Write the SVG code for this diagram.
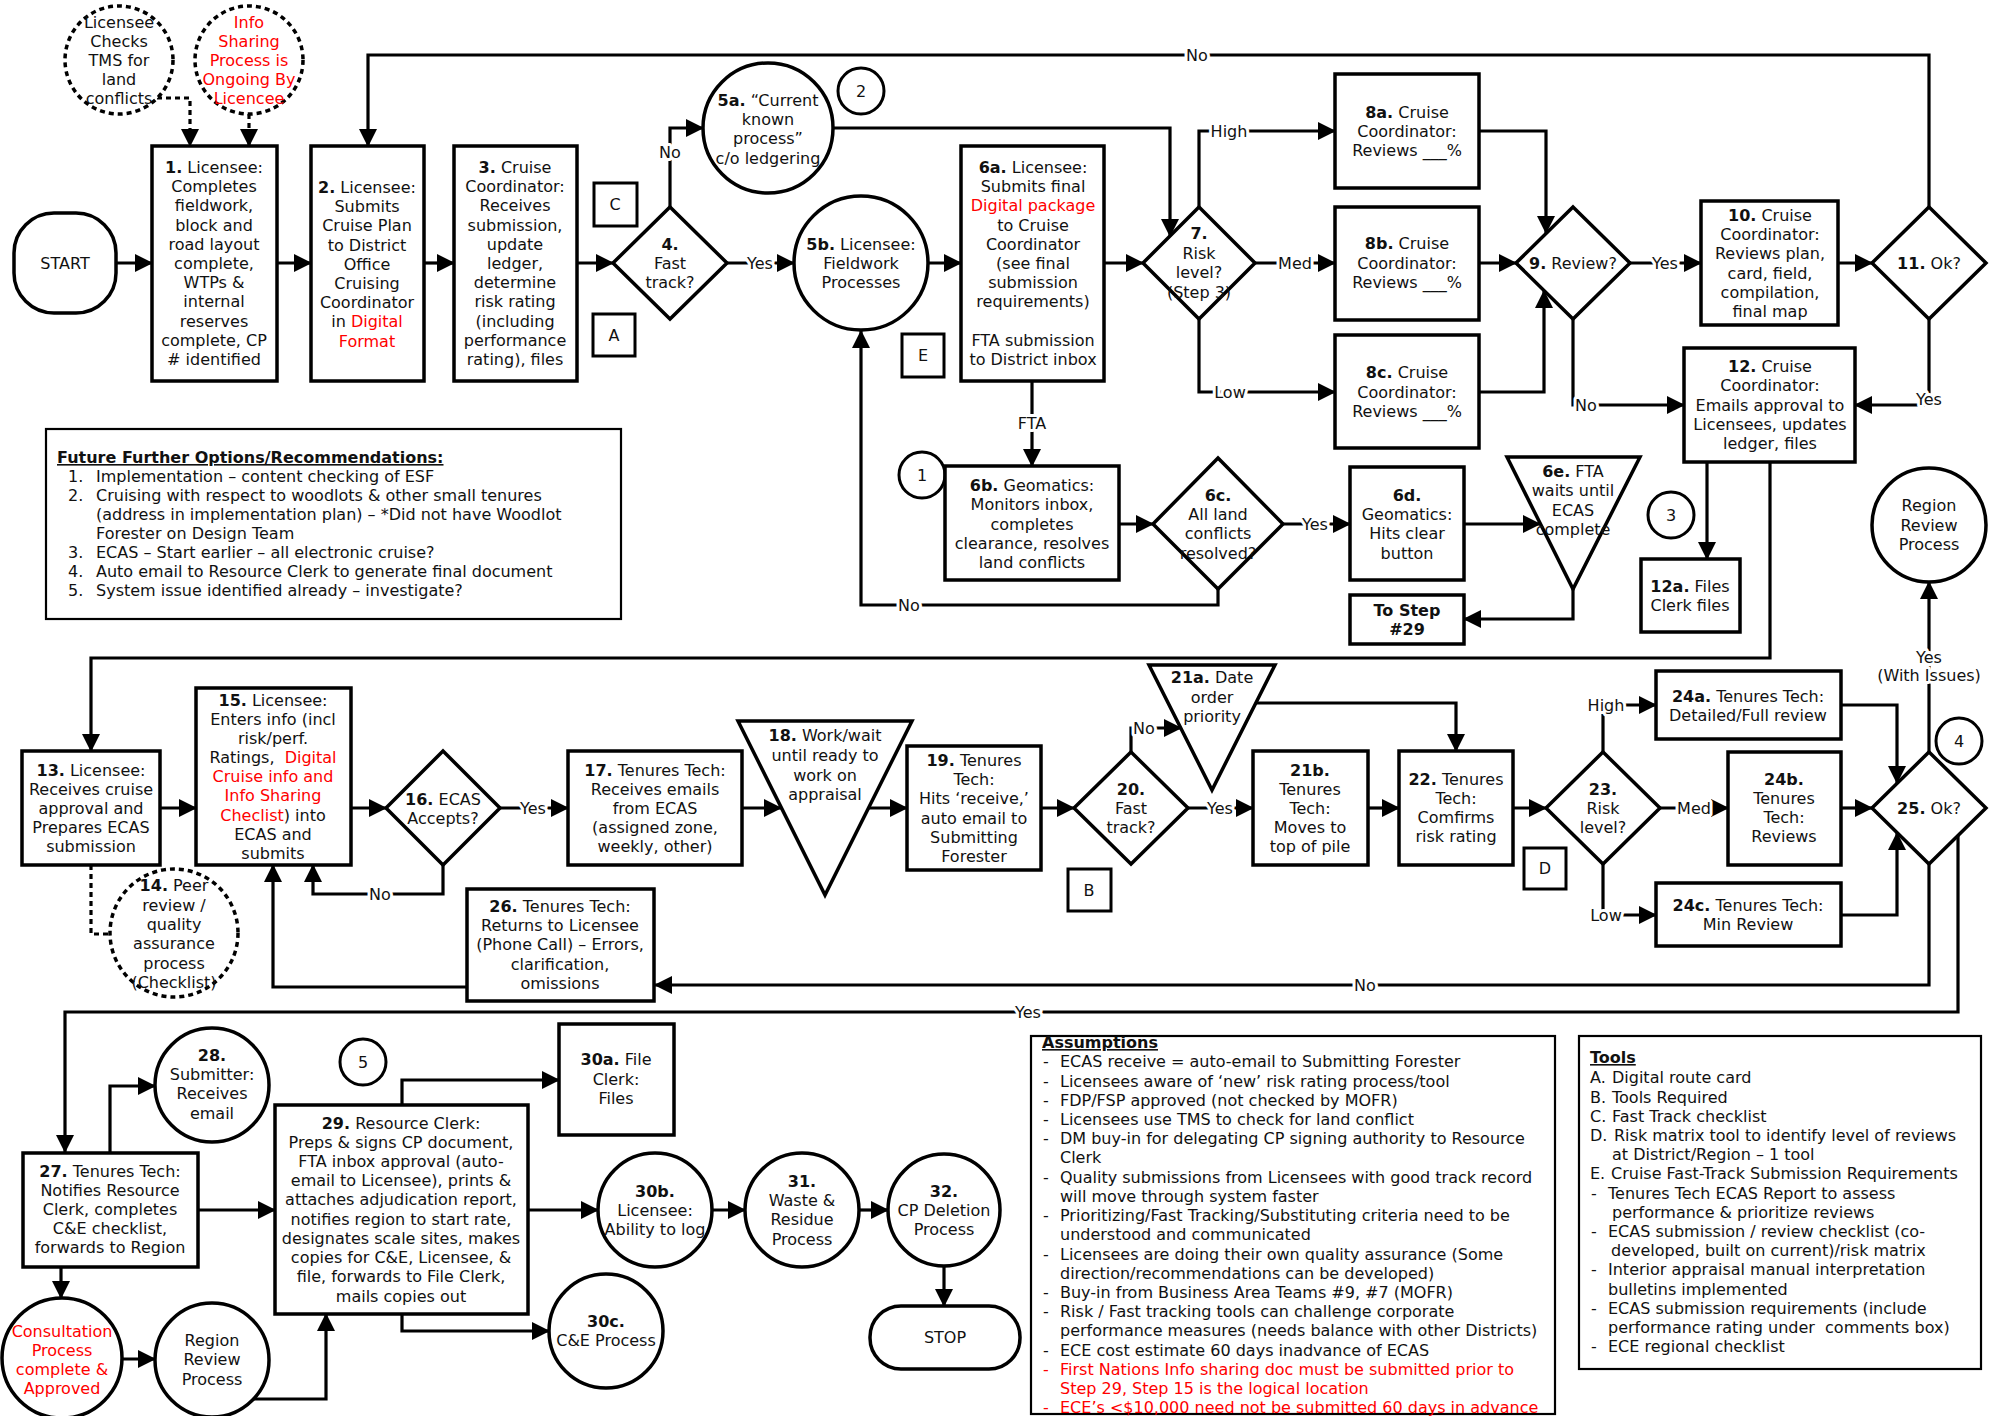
<svg xmlns="http://www.w3.org/2000/svg" width="1997" height="1416" viewBox="0 0 1997 1416">
<style>
text{font-family:"DejaVu Sans",Verdana,sans-serif;font-size:16px;fill:#111}
.t{text-anchor:middle}
.b{font-weight:bold}
.r{fill:#f00}
.u{text-decoration:underline;font-weight:bold}
.box{fill:#fff;stroke:#000;stroke-width:3.5}
.thin{fill:#fff;stroke:#000;stroke-width:2.2}
.dsh{fill:#fff;stroke:#000;stroke-width:3.5;stroke-dasharray:5 4}
.con{fill:none;stroke:#000;stroke-width:3.2}
.cd{fill:none;stroke:#000;stroke-width:3.2;stroke-dasharray:5 4}
.lbl{text-anchor:middle;paint-order:stroke;stroke:#fff;stroke-width:6px;stroke-linejoin:round}
</style>
<defs>
<marker id="a" markerUnits="userSpaceOnUse" markerWidth="18" markerHeight="18" refX="17" refY="9" orient="auto"><path d="M0,0 L18,9 L0,18 z" fill="#000"/></marker>
</defs>
<rect width="1997" height="1416" fill="#fff"/>

<g id="connectors">
<path class="con" marker-end="url(#a)" d="M116,263 H152"/>
<path class="con" marker-end="url(#a)" d="M277,263 H311"/>
<path class="con" marker-end="url(#a)" d="M424,263 H454"/>
<path class="con" marker-end="url(#a)" d="M577,263 H613"/>
<path class="con" marker-end="url(#a)" d="M670,207 V128 H703"/>
<path class="con" marker-end="url(#a)" d="M727,263 H794"/>
<path class="con" marker-end="url(#a)" d="M928,263 H961"/>
<path class="con" marker-end="url(#a)" d="M833,128 H1170 V236"/>
<path class="con" marker-end="url(#a)" d="M1104,263 H1143"/>
<path class="con" marker-end="url(#a)" d="M1199,207 V131 H1335"/>
<path class="con" marker-end="url(#a)" d="M1255,263 H1335"/>
<path class="con" marker-end="url(#a)" d="M1199,319 V392 H1335"/>
<path class="con" marker-end="url(#a)" d="M1479,131 H1546 V233"/>
<path class="con" marker-end="url(#a)" d="M1479,263 H1516"/>
<path class="con" marker-end="url(#a)" d="M1479,392 H1544 V291"/>
<path class="con" marker-end="url(#a)" d="M1630,263 H1701"/>
<path class="con" marker-end="url(#a)" d="M1838,263 H1872"/>
<path class="con" marker-end="url(#a)" d="M1929,207 V55 H368 V146"/>
<path class="con" marker-end="url(#a)" d="M1929,319 V405 H1855"/>
<path class="con" marker-end="url(#a)" d="M1573,319 V405 H1684"/>
<path class="con" marker-end="url(#a)" d="M1032,381 V466"/>
<path class="con" marker-end="url(#a)" d="M1119,524 H1153"/>
<path class="con" marker-end="url(#a)" d="M1283,524 H1350"/>
<path class="con" marker-end="url(#a)" d="M1218,589 V605 H861 V331"/>
<path class="con" marker-end="url(#a)" d="M1464,524 H1540"/>
<path class="con" marker-end="url(#a)" d="M1573,589 V619 H1464"/>
<path class="con" marker-end="url(#a)" d="M1707,462 V559"/>
<path class="con" marker-end="url(#a)" d="M1770,462 V658 H91 V751"/>
<path class="cd" marker-end="url(#a)" d="M157,98 H190 V146"/>
<path class="cd" marker-end="url(#a)" d="M249,114 V146"/>
<path class="con" marker-end="url(#a)" d="M160,808 H196"/>
<path class="con" marker-end="url(#a)" d="M351,808 H386"/>
<path class="con" marker-end="url(#a)" d="M500,808 H568"/>
<path class="con" marker-end="url(#a)" d="M443,865 V894 H313 V865"/>
<path class="con" marker-end="url(#a)" d="M742,808 H781"/>
<path class="con" marker-end="url(#a)" d="M868,808 H907"/>
<path class="con" marker-end="url(#a)" d="M1041,808 H1074"/>
<path class="con" marker-end="url(#a)" d="M1188,808 H1253"/>
<path class="con" marker-end="url(#a)" d="M1131,752 V728 H1181"/>
<path class="con" marker-end="url(#a)" d="M1256,703 H1456 V751"/>
<path class="con" marker-end="url(#a)" d="M1368,808 H1399"/>
<path class="con" marker-end="url(#a)" d="M1513,808 H1546"/>
<path class="con" marker-end="url(#a)" d="M1603,752 V705 H1656"/>
<path class="con" marker-end="url(#a)" d="M1660,808 H1728"/>
<path class="con" marker-end="url(#a)" d="M1603,864 V915 H1656"/>
<path class="con" marker-end="url(#a)" d="M1841,705 H1897 V783"/>
<path class="con" marker-end="url(#a)" d="M1841,808 H1872"/>
<path class="con" marker-end="url(#a)" d="M1841,915 H1897 V833"/>
<path class="con" marker-end="url(#a)" d="M1929,752 V582"/>
<path class="con" marker-end="url(#a)" d="M1929,864 V985 H655"/>
<path class="con" marker-end="url(#a)" d="M467,987 H273 V865"/>
<path class="con" marker-end="url(#a)" d="M1958,836 V1012 H65 V1152"/>
<path class="cd" d="M91,865 V934 H110"/>
<path class="con" marker-end="url(#a)" d="M110,1153 V1086 H155"/>
<path class="con" marker-end="url(#a)" d="M198,1210 H275"/>
<path class="con" marker-end="url(#a)" d="M61,1267 V1298"/>
<path class="con" marker-end="url(#a)" d="M122,1359 H155"/>
<path class="con" marker-end="url(#a)" d="M253,1399 H326 V1314"/>
<path class="con" marker-end="url(#a)" d="M402,1105 V1080 H559"/>
<path class="con" marker-end="url(#a)" d="M528,1210 H598"/>
<path class="con" marker-end="url(#a)" d="M402,1314 V1331 H549"/>
<path class="con" marker-end="url(#a)" d="M712,1210 H745"/>
<path class="con" marker-end="url(#a)" d="M859,1210 H888"/>
<path class="con" marker-end="url(#a)" d="M944,1266 V1306"/>
</g>

<g id="connector-labels">
<text class="lbl" x="670" y="158">No</text>
<text class="lbl" x="760" y="269">Yes</text>
<text class="lbl" x="1197" y="61">No</text>
<text class="lbl" x="1229" y="137">High</text>
<text class="lbl" x="1295" y="269">Med</text>
<text class="lbl" x="1230" y="398">Low</text>
<text class="lbl" x="1665" y="269">Yes</text>
<text class="lbl" x="1929" y="405">Yes</text>
<text class="lbl" x="1586" y="411">No</text>
<text class="lbl" x="1032" y="429">FTA</text>
<text class="lbl" x="1315" y="530">Yes</text>
<text class="lbl" x="909" y="611">No</text>
<text class="lbl" x="380" y="900">No</text>
<text class="lbl" x="533" y="814">Yes</text>
<text class="lbl" x="1144" y="734">No</text>
<text class="lbl" x="1220" y="814">Yes</text>
<text class="lbl" x="1606" y="711">High</text>
<text class="lbl" x="1694" y="814">Med</text>
<text class="lbl" x="1606" y="921">Low</text>
<text class="lbl" x="1929" y="663">Yes</text>
<text class="lbl" x="1929" y="681">(With Issues)</text>
<text class="lbl" x="1365" y="991">No</text>
<text class="lbl" x="1028" y="1018">Yes</text>
</g>

<g id="n-tms">
<circle class="dsh" cx="119" cy="60" r="54"/>
<text class="t" x="119" y="28">Licensee</text>
<text class="t" x="119" y="47">Checks</text>
<text class="t" x="119" y="66">TMS for</text>
<text class="t" x="119" y="85">land</text>
<text class="t" x="119" y="104">conflicts</text>
</g>
<g id="n-info">
<circle class="dsh" cx="249" cy="60" r="54"/>
<text class="t r" x="249" y="28">Info</text>
<text class="t r" x="249" y="47">Sharing</text>
<text class="t r" x="249" y="66">Process is</text>
<text class="t r" x="249" y="85">Ongoing By</text>
<text class="t r" x="249" y="104">Licencee</text>
</g>
<g id="n-start">
<rect class="box" x="14" y="213" width="102" height="100" rx="40"/>
<text class="t" x="65" y="269">START</text>
</g>
<g id="n1">
<rect class="box" x="152" y="146" width="125" height="235"/>
<text class="t" x="214" y="173"><tspan class="b">1.</tspan> Licensee:</text>
<text class="t" x="214" y="192">Completes</text>
<text class="t" x="214" y="211">fieldwork,</text>
<text class="t" x="214" y="231">block and</text>
<text class="t" x="214" y="250">road layout</text>
<text class="t" x="214" y="269">complete,</text>
<text class="t" x="214" y="288">WTPs &amp;</text>
<text class="t" x="214" y="307">internal</text>
<text class="t" x="214" y="327">reserves</text>
<text class="t" x="214" y="346">complete, CP</text>
<text class="t" x="214" y="365"># identified</text>
</g>
<g id="n2">
<rect class="box" x="311" y="146" width="113" height="235"/>
<text class="t" x="367" y="193"><tspan class="b">2.</tspan> Licensee:</text>
<text class="t" x="367" y="212">Submits</text>
<text class="t" x="367" y="231">Cruise Plan</text>
<text class="t" x="367" y="251">to District</text>
<text class="t" x="367" y="270">Office</text>
<text class="t" x="367" y="289">Cruising</text>
<text class="t" x="367" y="308">Coordinator</text>
<text class="t" x="367" y="327">in <tspan class="r">Digital</tspan></text>
<text class="t r" x="367" y="347">Format</text>
</g>
<g id="n3">
<rect class="box" x="454" y="146" width="123" height="235"/>
<text class="t" x="515" y="173"><tspan class="b">3.</tspan> Cruise</text>
<text class="t" x="515" y="192">Coordinator:</text>
<text class="t" x="515" y="211">Receives</text>
<text class="t" x="515" y="231">submission,</text>
<text class="t" x="515" y="250">update</text>
<text class="t" x="515" y="269">ledger,</text>
<text class="t" x="515" y="288">determine</text>
<text class="t" x="515" y="307">risk rating</text>
<text class="t" x="515" y="327">(including</text>
<text class="t" x="515" y="346">performance</text>
<text class="t" x="515" y="365">rating), files</text>
</g>
<g id="tool-c"><rect class="box" x="594" y="183" width="43" height="43" style="stroke-width:3"/><text class="t" x="615" y="210">C</text></g>
<g id="tool-a"><rect class="box" x="593" y="314" width="42" height="42" style="stroke-width:3"/><text class="t" x="614" y="341">A</text></g>
<g id="n4">
<polygon class="box" points="670,207 727,263 670,319 613,263"/>
<text class="t b" x="670" y="250">4.</text>
<text class="t" x="670" y="269">Fast</text>
<text class="t" x="670" y="288">track?</text>
</g>
<g id="n5a">
<circle class="box" cx="768" cy="128" r="65"/>
<text class="t" x="768" y="106"><tspan class="b">5a.</tspan> “Current</text>
<text class="t" x="768" y="125">known</text>
<text class="t" x="768" y="144">process”</text>
<text class="t" x="768" y="164">c/o ledgering</text>
</g>
<g id="mark2"><circle class="box" cx="861" cy="91" r="23" style="stroke-width:3"/><text class="t" x="861" y="97">2</text></g>
<g id="n5b">
<circle class="box" cx="861" cy="263" r="67"/>
<text class="t" x="861" y="250"><tspan class="b">5b.</tspan> Licensee:</text>
<text class="t" x="861" y="269">Fieldwork</text>
<text class="t" x="861" y="288">Processes</text>
</g>
<g id="tool-e"><rect class="box" x="902" y="334" width="42" height="43" style="stroke-width:3"/><text class="t" x="923" y="361">E</text></g>
<g id="n6a">
<rect class="box" x="961" y="146" width="143" height="235"/>
<text class="t" x="1033" y="173"><tspan class="b">6a.</tspan> Licensee:</text>
<text class="t" x="1033" y="192">Submits final</text>
<text class="t r" x="1033" y="211">Digital package</text>
<text class="t" x="1033" y="231">to Cruise</text>
<text class="t" x="1033" y="250">Coordinator</text>
<text class="t" x="1033" y="269">(see final</text>
<text class="t" x="1033" y="288">submission</text>
<text class="t" x="1033" y="307">requirements)</text>
<text class="t" x="1033" y="346">FTA submission</text>
<text class="t" x="1033" y="365">to District inbox</text>
</g>
<g id="n7">
<polygon class="box" points="1199,207 1255,263 1199,319 1143,263"/>
<text class="t b" x="1199" y="239">7.</text>
<text class="t" x="1199" y="259">Risk</text>
<text class="t" x="1199" y="278">level?</text>
<text class="t" x="1199" y="298">(Step 3)</text>
</g>
<g id="n8a">
<rect class="box" x="1335" y="74" width="144" height="114"/>
<text class="t" x="1407" y="118"><tspan class="b">8a.</tspan> Cruise</text>
<text class="t" x="1407" y="137">Coordinator:</text>
<text class="t" x="1407" y="156">Reviews ___%</text>
</g>
<g id="n8b">
<rect class="box" x="1335" y="207" width="144" height="113"/>
<text class="t" x="1407" y="249"><tspan class="b">8b.</tspan> Cruise</text>
<text class="t" x="1407" y="269">Coordinator:</text>
<text class="t" x="1407" y="288">Reviews ___%</text>
</g>
<g id="n8c">
<rect class="box" x="1335" y="335" width="144" height="113"/>
<text class="t" x="1407" y="378"><tspan class="b">8c.</tspan> Cruise</text>
<text class="t" x="1407" y="398">Coordinator:</text>
<text class="t" x="1407" y="417">Reviews ___%</text>
</g>
<g id="n9">
<polygon class="box" points="1573,207 1630,263 1573,319 1516,263"/>
<text class="t" x="1573" y="269"><tspan class="b">9.</tspan> Review?</text>
</g>
<g id="n10">
<rect class="box" x="1701" y="201" width="137" height="124"/>
<text class="t" x="1770" y="221"><tspan class="b">10.</tspan> Cruise</text>
<text class="t" x="1770" y="240">Coordinator:</text>
<text class="t" x="1770" y="259">Reviews plan,</text>
<text class="t" x="1770" y="279">card, field,</text>
<text class="t" x="1770" y="298">compilation,</text>
<text class="t" x="1770" y="317">final map</text>
</g>
<g id="n11">
<polygon class="box" points="1929,207 1986,263 1929,319 1872,263"/>
<text class="t" x="1929" y="269"><tspan class="b">11.</tspan> Ok?</text>
</g>
<g id="n12">
<rect class="box" x="1684" y="348" width="171" height="114"/>
<text class="t" x="1770" y="372"><tspan class="b">12.</tspan> Cruise</text>
<text class="t" x="1770" y="391">Coordinator:</text>
<text class="t" x="1770" y="411">Emails approval to</text>
<text class="t" x="1770" y="430">Licensees, updates</text>
<text class="t" x="1770" y="449">ledger, files</text>
</g>
<g id="future">
<rect class="thin" x="46" y="429" width="575" height="190"/>
<text class="u" x="57" y="463">Future Further Options/Recommendations:</text>
<text x="68" y="482">1.</text><text x="96" y="482">Implementation – content checking of ESF</text>
<text x="68" y="501">2.</text><text x="96" y="501">Cruising with respect to woodlots &amp; other small tenures</text>
<text x="96" y="520">(address in implementation plan) – *Did not have Woodlot</text>
<text x="96" y="539">Forester on Design Team</text>
<text x="68" y="558">3.</text><text x="96" y="558">ECAS – Start earlier – all electronic cruise?</text>
<text x="68" y="577">4.</text><text x="96" y="577">Auto email to Resource Clerk to generate final document</text>
<text x="68" y="596">5.</text><text x="96" y="596">System issue identified already – investigate?</text>
</g>
<g id="mark1"><circle class="box" cx="922" cy="475" r="23" style="stroke-width:3"/><text class="t" x="922" y="481">1</text></g>
<g id="n6b">
<rect class="box" x="945" y="466" width="174" height="114"/>
<text class="t" x="1032" y="491"><tspan class="b">6b.</tspan> Geomatics:</text>
<text class="t" x="1032" y="510">Monitors inbox,</text>
<text class="t" x="1032" y="530">completes</text>
<text class="t" x="1032" y="549">clearance, resolves</text>
<text class="t" x="1032" y="568">land conflicts</text>
</g>
<g id="n6c">
<polygon class="box" points="1218,458 1283,524 1218,589 1153,524"/>
<text class="t b" x="1218" y="501">6c.</text>
<text class="t" x="1218" y="520">All land</text>
<text class="t" x="1218" y="539">conflicts</text>
<text class="t" x="1218" y="559">resolved?</text>
</g>
<g id="n6d">
<rect class="box" x="1350" y="467" width="114" height="113"/>
<text class="t b" x="1407" y="501">6d.</text>
<text class="t" x="1407" y="520">Geomatics:</text>
<text class="t" x="1407" y="539">Hits clear</text>
<text class="t" x="1407" y="559">button</text>
</g>
<g id="n-tostep">
<rect class="box" x="1350" y="595" width="114" height="49"/>
<text class="t b" x="1407" y="616">To Step</text>
<text class="t b" x="1407" y="635">#29</text>
</g>
<g id="n6e">
<polygon class="box" points="1507,457 1640,457 1573,589"/>
<text class="t" x="1573" y="477"><tspan class="b">6e.</tspan> FTA</text>
<text class="t" x="1573" y="496">waits until</text>
<text class="t" x="1573" y="516">ECAS</text>
<text class="t" x="1573" y="535">complete</text>
</g>
<g id="mark3"><circle class="box" cx="1671" cy="515" r="23" style="stroke-width:3"/><text class="t" x="1671" y="521">3</text></g>
<g id="n12a">
<rect class="box" x="1641" y="559" width="99" height="73"/>
<text class="t" x="1690" y="592"><tspan class="b">12a.</tspan> Files</text>
<text class="t" x="1690" y="611">Clerk files</text>
</g>
<g id="n-region1">
<circle class="box" cx="1929" cy="525" r="57"/>
<text class="t" x="1929" y="511">Region</text>
<text class="t" x="1929" y="531">Review</text>
<text class="t" x="1929" y="550">Process</text>
</g>

<g id="n13">
<rect class="box" x="22" y="751" width="138" height="114"/>
<text class="t" x="91" y="776"><tspan class="b">13.</tspan> Licensee:</text>
<text class="t" x="91" y="795">Receives cruise</text>
<text class="t" x="91" y="814">approval and</text>
<text class="t" x="91" y="833">Prepares ECAS</text>
<text class="t" x="91" y="852">submission</text>
</g>
<g id="n14">
<circle class="dsh" cx="174" cy="933" r="64"/>
<text class="t" x="174" y="891"><tspan class="b">14.</tspan> Peer</text>
<text class="t" x="174" y="911">review /</text>
<text class="t" x="174" y="930">quality</text>
<text class="t" x="174" y="949">assurance</text>
<text class="t" x="174" y="969">process</text>
<text class="t" x="174" y="988">(Checklist)</text>
</g>
<g id="n15">
<rect class="box" x="196" y="688" width="155" height="177"/>
<text class="t" x="273" y="706"><tspan class="b">15.</tspan> Licensee:</text>
<text class="t" x="273" y="725">Enters info (incl</text>
<text class="t" x="273" y="744">risk/perf.</text>
<text class="t" x="273" y="763">Ratings,&#160; <tspan class="r">Digital</tspan></text>
<text class="t r" x="273" y="782">Cruise info and</text>
<text class="t r" x="273" y="801">Info Sharing</text>
<text class="t" x="273" y="821"><tspan class="r">Checlist</tspan>) into</text>
<text class="t" x="273" y="840">ECAS and</text>
<text class="t" x="273" y="859">submits</text>
</g>
<g id="n16">
<polygon class="box" points="443,751 500,808 443,865 386,808"/>
<text class="t" x="443" y="805"><tspan class="b">16.</tspan> ECAS</text>
<text class="t" x="443" y="824">Accepts?</text>
</g>
<g id="n17">
<rect class="box" x="568" y="751" width="174" height="114"/>
<text class="t" x="655" y="776"><tspan class="b">17.</tspan> Tenures Tech:</text>
<text class="t" x="655" y="795">Receives emails</text>
<text class="t" x="655" y="814">from ECAS</text>
<text class="t" x="655" y="833">(assigned zone,</text>
<text class="t" x="655" y="852">weekly, other)</text>
</g>
<g id="n18">
<polygon class="box" points="738,721 912,721 825,895"/>
<text class="t" x="825" y="741"><tspan class="b">18.</tspan> Work/wait</text>
<text class="t" x="825" y="761">until ready to</text>
<text class="t" x="825" y="781">work on</text>
<text class="t" x="825" y="800">appraisal</text>
</g>
<g id="n19">
<rect class="box" x="907" y="746" width="134" height="124"/>
<text class="t" x="974" y="766"><tspan class="b">19.</tspan> Tenures</text>
<text class="t" x="974" y="785">Tech:</text>
<text class="t" x="974" y="804">Hits ‘receive,’</text>
<text class="t" x="974" y="824">auto email to</text>
<text class="t" x="974" y="843">Submitting</text>
<text class="t" x="974" y="862">Forester</text>
</g>
<g id="n20">
<polygon class="box" points="1131,752 1188,808 1131,864 1074,808"/>
<text class="t b" x="1131" y="795">20.</text>
<text class="t" x="1131" y="814">Fast</text>
<text class="t" x="1131" y="833">track?</text>
</g>
<g id="tool-b"><rect class="box" x="1068" y="869" width="43" height="42" style="stroke-width:3"/><text class="t" x="1089" y="896">B</text></g>
<g id="n21a">
<polygon class="box" points="1149,665 1275,665 1212,790"/>
<text class="t" x="1212" y="683"><tspan class="b">21a.</tspan> Date</text>
<text class="t" x="1212" y="703">order</text>
<text class="t" x="1212" y="722">priority</text>
</g>
<g id="n21b">
<rect class="box" x="1253" y="751" width="115" height="114"/>
<text class="t b" x="1310" y="776">21b.</text>
<text class="t" x="1310" y="795">Tenures</text>
<text class="t" x="1310" y="814">Tech:</text>
<text class="t" x="1310" y="833">Moves to</text>
<text class="t" x="1310" y="852">top of pile</text>
</g>
<g id="n22">
<rect class="box" x="1399" y="751" width="114" height="114"/>
<text class="t" x="1456" y="785"><tspan class="b">22.</tspan> Tenures</text>
<text class="t" x="1456" y="804">Tech:</text>
<text class="t" x="1456" y="823">Comfirms</text>
<text class="t" x="1456" y="842">risk rating</text>
</g>
<g id="tool-d"><rect class="box" x="1524" y="848" width="42" height="41" style="stroke-width:3"/><text class="t" x="1545" y="874">D</text></g>
<g id="n23">
<polygon class="box" points="1603,752 1660,808 1603,864 1546,808"/>
<text class="t b" x="1603" y="795">23.</text>
<text class="t" x="1603" y="814">Risk</text>
<text class="t" x="1603" y="833">level?</text>
</g>
<g id="n24a">
<rect class="box" x="1656" y="671" width="185" height="68"/>
<text class="t" x="1748" y="702"><tspan class="b">24a.</tspan> Tenures Tech:</text>
<text class="t" x="1748" y="721">Detailed/Full review</text>
</g>
<g id="n24b">
<rect class="box" x="1728" y="752" width="113" height="113"/>
<text class="t b" x="1784" y="785">24b.</text>
<text class="t" x="1784" y="804">Tenures</text>
<text class="t" x="1784" y="823">Tech:</text>
<text class="t" x="1784" y="842">Reviews</text>
</g>
<g id="n24c">
<rect class="box" x="1656" y="883" width="185" height="63"/>
<text class="t" x="1748" y="911"><tspan class="b">24c.</tspan> Tenures Tech:</text>
<text class="t" x="1748" y="930">Min Review</text>
</g>
<g id="n25">
<polygon class="box" points="1929,752 1986,808 1929,864 1872,808"/>
<text class="t" x="1929" y="814"><tspan class="b">25.</tspan> Ok?</text>
</g>
<g id="mark4"><circle class="box" cx="1959" cy="741" r="23" style="stroke-width:3"/><text class="t" x="1959" y="747">4</text></g>
<g id="n26">
<rect class="box" x="467" y="889" width="187" height="112"/>
<text class="t" x="560" y="912"><tspan class="b">26.</tspan> Tenures Tech:</text>
<text class="t" x="560" y="931">Returns to Licensee</text>
<text class="t" x="560" y="950">(Phone Call) – Errors,</text>
<text class="t" x="560" y="970">clarification,</text>
<text class="t" x="560" y="989">omissions</text>
</g>

<g id="n27">
<rect class="box" x="23" y="1153" width="175" height="114"/>
<text class="t" x="110" y="1177"><tspan class="b">27.</tspan> Tenures Tech:</text>
<text class="t" x="110" y="1196">Notifies Resource</text>
<text class="t" x="110" y="1215">Clerk, completes</text>
<text class="t" x="110" y="1234">C&amp;E checklist,</text>
<text class="t" x="110" y="1253">forwards to Region</text>
</g>
<g id="n28">
<circle class="box" cx="212" cy="1085" r="57"/>
<text class="t b" x="212" y="1061">28.</text>
<text class="t" x="212" y="1080">Submitter:</text>
<text class="t" x="212" y="1099">Receives</text>
<text class="t" x="212" y="1119">email</text>
</g>
<g id="mark5"><circle class="box" cx="363" cy="1062" r="23" style="stroke-width:3"/><text class="t" x="363" y="1068">5</text></g>
<g id="n-consult">
<circle class="box" cx="62" cy="1358" r="60"/>
<text class="t r" x="62" y="1337">Consultation</text>
<text class="t r" x="62" y="1356">Process</text>
<text class="t r" x="62" y="1375">complete &amp;</text>
<text class="t r" x="62" y="1394">Approved</text>
</g>
<g id="n-region2">
<circle class="box" cx="212" cy="1360" r="57"/>
<text class="t" x="212" y="1346">Region</text>
<text class="t" x="212" y="1365">Review</text>
<text class="t" x="212" y="1385">Process</text>
</g>
<g id="n29">
<rect class="box" x="275" y="1105" width="253" height="209"/>
<text class="t" x="401" y="1129"><tspan class="b">29.</tspan> Resource Clerk:</text>
<text class="t" x="401" y="1148">Preps &amp; signs CP document,</text>
<text class="t" x="401" y="1167">FTA inbox approval (auto-</text>
<text class="t" x="401" y="1186">email to Licensee), prints &amp;</text>
<text class="t" x="401" y="1205">attaches adjudication report,</text>
<text class="t" x="401" y="1225">notifies region to start rate,</text>
<text class="t" x="401" y="1244">designates scale sites, makes</text>
<text class="t" x="401" y="1263">copies for C&amp;E, Licensee, &amp;</text>
<text class="t" x="401" y="1282">file, forwards to File Clerk,</text>
<text class="t" x="401" y="1302">mails copies out</text>
</g>
<g id="n30a">
<rect class="box" x="559" y="1024" width="115" height="111"/>
<text class="t" x="616" y="1065"><tspan class="b">30a.</tspan> File</text>
<text class="t" x="616" y="1085">Clerk:</text>
<text class="t" x="616" y="1104">Files</text>
</g>
<g id="n30b">
<circle class="box" cx="655" cy="1210" r="57"/>
<text class="t b" x="655" y="1197">30b.</text>
<text class="t" x="655" y="1216">Licensee:</text>
<text class="t" x="655" y="1235">Ability to log</text>
</g>
<g id="n30c">
<circle class="box" cx="606" cy="1331" r="57"/>
<text class="t b" x="606" y="1327">30c.</text>
<text class="t" x="606" y="1346">C&amp;E Process</text>
</g>
<g id="n31">
<circle class="box" cx="802" cy="1210" r="57"/>
<text class="t b" x="802" y="1187">31.</text>
<text class="t" x="802" y="1206">Waste &amp;</text>
<text class="t" x="802" y="1225">Residue</text>
<text class="t" x="802" y="1245">Process</text>
</g>
<g id="n32">
<circle class="box" cx="944" cy="1210" r="56"/>
<text class="t b" x="944" y="1197">32.</text>
<text class="t" x="944" y="1216">CP Deletion</text>
<text class="t" x="944" y="1235">Process</text>
</g>
<g id="n-stop">
<rect class="box" x="870" y="1306" width="150" height="63" rx="31"/>
<text class="t" x="945" y="1343">STOP</text>
</g>

<g id="assumptions">
<rect class="thin" x="1031" y="1036" width="524" height="378"/>
<text class="u" x="1042" y="1048">Assumptions</text>
<g>
<text x="1043" y="1067">-</text><text x="1060" y="1067">ECAS receive = auto-email to Submitting Forester</text>
<text x="1043" y="1087">-</text><text x="1060" y="1087">Licensees aware of ‘new’ risk rating process/tool</text>
<text x="1043" y="1106">-</text><text x="1060" y="1106">FDP/FSP approved (not checked by MOFR)</text>
<text x="1043" y="1125">-</text><text x="1060" y="1125">Licensees use TMS to check for land conflict</text>
<text x="1043" y="1144">-</text><text x="1060" y="1144">DM buy-in for delegating CP signing authority to Resource</text>
<text x="1060" y="1163">Clerk</text>
<text x="1043" y="1183">-</text><text x="1060" y="1183">Quality submissions from Licensees with good track record</text>
<text x="1060" y="1202">will move through system faster</text>
<text x="1043" y="1221">-</text><text x="1060" y="1221">Prioritizing/Fast Tracking/Substituting criteria need to be</text>
<text x="1060" y="1240">understood and communicated</text>
<text x="1043" y="1260">-</text><text x="1060" y="1260">Licensees are doing their own quality assurance (Some</text>
<text x="1060" y="1279">direction/recommendations can be developed)</text>
<text x="1043" y="1298">-</text><text x="1060" y="1298">Buy-in from Business Area Teams #9, #7 (MOFR)</text>
<text x="1043" y="1317">-</text><text x="1060" y="1317">Risk / Fast tracking tools can challenge corporate</text>
<text x="1060" y="1336">performance measures (needs balance with other Districts)</text>
<text x="1043" y="1356">-</text><text x="1060" y="1356">ECE cost estimate 60 days inadvance of ECAS</text>
<text class="r" x="1043" y="1375">-</text><text class="r" x="1060" y="1375">First Nations Info sharing doc must be submitted prior to</text>
<text class="r" x="1060" y="1394">Step 29, Step 15 is the logical location</text>
<text class="r" x="1043" y="1413">-</text><text class="r" x="1060" y="1413">ECE’s &lt;$10,000 need not be submitted 60 days in advance</text>
</g>
</g>

<g id="tools">
<rect class="thin" x="1579" y="1036" width="402" height="333"/>
<text class="u" x="1590" y="1063">Tools</text>
<text x="1590" y="1083">A.</text><text x="1612" y="1083">Digital route card</text>
<text x="1590" y="1103">B.</text><text x="1612" y="1103">Tools Required</text>
<text x="1590" y="1122">C.</text><text x="1612" y="1122">Fast Track checklist</text>
<text x="1590" y="1141">D.</text><text x="1614" y="1141">Risk matrix tool to identify level of reviews</text>
<text x="1612" y="1160">at District/Region – 1 tool</text>
<text x="1590" y="1179">E.</text><text x="1611" y="1179">Cruise Fast-Track Submission Requirements</text>
<text x="1591" y="1199">-</text><text x="1608" y="1199">Tenures Tech ECAS Report to assess</text>
<text x="1612" y="1218">performance &amp; prioritize reviews</text>
<text x="1591" y="1237">-</text><text x="1608" y="1237">ECAS submission / review checklist (co-</text>
<text x="1611" y="1256">developed, built on current)/risk matrix</text>
<text x="1591" y="1275">-</text><text x="1608" y="1275">Interior appraisal manual interpretation</text>
<text x="1608" y="1295">bulletins implemented</text>
<text x="1591" y="1314">-</text><text x="1608" y="1314">ECAS submission requirements (include</text>
<text x="1608" y="1333">performance rating under&#160; comments box)</text>
<text x="1591" y="1352">-</text><text x="1608" y="1352">ECE regional checklist</text>
</g>
</svg>
